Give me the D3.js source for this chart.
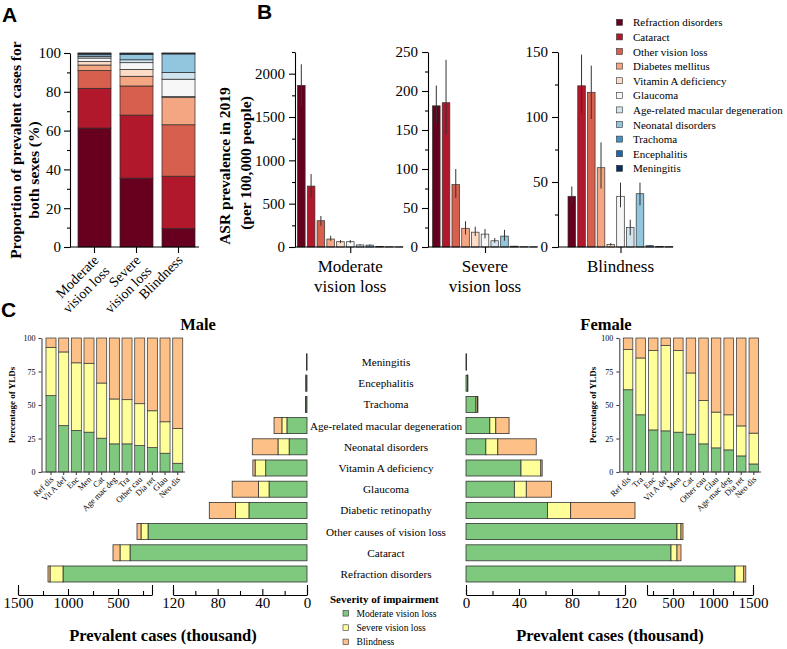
<!DOCTYPE html>
<html><head><meta charset="utf-8">
<script src="https://cdn.jsdelivr.net/npm/d3@7"></script>
<style>
body{margin:0;background:#fff;}
svg{display:block;}
text{font-family:"Liberation Serif","Times New Roman",serif;fill:#000;}
text.plabel{font-family:"Liberation Sans",Arial,sans-serif;font-weight:bold;}
</style></head><body>
<svg id="c" width="787" height="649"></svg>
<script>
// ---------- DATA ----------
const causes = ["Refraction disorders","Cataract","Other vision loss","Diabetes mellitus","Vitamin A deficiency","Glaucoma","Age-related macular degeneration","Neonatal disorders","Trachoma","Encephalitis","Meningitis"];
const causeColors = ["#67001f","#b2182b","#d6604d","#f4a582","#fddbc7","#f7f7f7","#d1e5f0","#92c5de","#4393c3","#2166ac","#053061"];

// Panel A: proportions (%) of prevalent cases
const aCategories = ["Moderate vision loss","Severe vision loss","Blindness"];
const aLabelLines = [["Moderate","vision loss"],["Severe","vision loss"],["Blindness"]];
const propModerate = [61.3,20.5,9.2,2.8,1.8,1.8,0.9,0.8,0.5,0.3,0.1];
const propSevere   = [35.5,32.5,15,5,3.5,3.5,1.5,2.7,0.4,0.2,0.2];
const propBlindness= [9.5,27,26.5,14,0.5,9,3.5,9.5,0.3,0.1,0.1];
const aTicks = [0,20,40,60,80,100];

// Panel B: ASR prevalence (per 100,000)
const asrModerate     = [1865,703,303,92,61,61,24,22,5,2,1];
const asrModerateLow  = [1625,575,245,70,45,45,17,15,3,1,0.5];
const asrModerateHigh = [2108,842,358,130,80,80,32,30,7,3,1.5];
const asrSevere       = [181,185,80,24,19,16.5,8,14,1,0.3,0.2];
const asrSevereLow    = [159,144,63,16,14,11,5.5,8,0.6,0.2,0.1];
const asrSevereHigh   = [207,240,100,33,26,23,11.5,22,1.5,0.4,0.3];
const asrBlindness    = [39,124,119,61,2,39,15,41,1,0.3,0.2];
const asrBlindnessLow = [33,103,98.5,45,1,30.5,9,32,0.5,0.2,0.1];
const asrBlindnessHigh= [46.5,148,139.5,80.5,3,49.5,21,49.5,1.5,0.4,0.3];
const bMax = [2250,250,150];
const bMajor = [[0,500,1000,1500,2000],[0,50,100,150,200,250],[0,50,100,150]];
const bMinor = [[250,750,1250,1750,2250],[25,75,125,175,225],[25,75,125]];

// Panel C: prevalent cases (thousand) by cause and severity
const cCategories = ["Meningitis","Encephalitis","Trachoma","Age-related macular degeneration","Neonatal disorders","Vitamin A deficiency","Glaucoma","Diabetic retinopathy","Other causes of vision loss","Cataract","Refraction disorders"];
const severities = ["Moderate vision loss","Severe vision loss","Blindness"];
const sevColors = ["#7fc97f","#ffff99","#fdc086"];
const maleModerate   = [0.25,0.8,1.0,18,16,37,34,52,200,380,1050];
const maleSevere     = [0.05,0.1,0.1,4.5,10,9.5,9.5,12,70,100,130];
const maleBlindness  = [0.05,0.1,0.1,7,23,2,23.5,23.5,40,70,20];
const femaleModerate = [0.25,1.2,7.5,18,15,41.5,36.5,61.5,550,475,1275];
const femaleSevere   = [0.05,0.1,1,4.5,9,15,9,17.5,50,75,110];
const femaleBlindness= [0.05,0.1,0.5,10,29,1,19,66,25,50,25];
const cSeg1Major = [0,40,80,120], cSeg1Minor = [20,60,100];
const cSeg2Major = [500,1000,1500], cSeg2Minor = [250,750,1250];

// Panel C insets: percentage of YLDs
const maleInsetCats = ["Ref dis","Vit A def","Enc","Men","Cat","Age mac deg","Tra","Other cau","Dia ret","Glau","Neo dis"];
const maleInsetModerate = [57,34.6,31,29.7,25.2,21,21,19.7,18.2,14,6.5];
const maleInsetSevere   = [36,55,50.5,51.4,41.2,33.5,33,31.3,27.5,23.5,26];
const maleInsetBlind    = [7,10.4,18.5,18.9,33.6,45.5,46,49,54.3,62.5,67.5];
const femaleInsetCats = ["Ref dis","Tra","Enc","Vit A def","Men","Cat","Other cau","Glau","Age mac deg","Dia ret","Neo dis"];
const femaleInsetModerate = [61.4,42.7,31.4,30.7,29.7,28.2,21,18,16.5,12,6];
const femaleInsetSevere   = [30,42.4,59.2,63.8,60.9,45.7,32.4,26.7,26.2,22.4,23];
const femaleInsetBlind    = [8.6,14.9,9.4,5.5,9.4,26.1,46.6,55.3,57.3,65.6,71];
const insetTicks = [0,25,50,75,100];

// ---------- DRAW ----------
const svg = d3.select("#c");
const SERIF = '"Liberation Serif","Times New Roman",serif';
const fmt = d3.format("d");
function styleAxis(g, size, color){
  g.attr("font-size", size).attr("font-family", SERIF);
  g.selectAll("path,line").attr("stroke", color || "#000").attr("stroke-width",1.1);
  return g;
}

// Panel letters
svg.append("text").attr("class","plabel").attr("x",2).attr("y",22).attr("font-size",21).text("A");
svg.append("text").attr("class","plabel").attr("x",257).attr("y",19).attr("font-size",21).text("B");
svg.append("text").attr("class","plabel").attr("x",1).attr("y",317).attr("font-size",21).text("C");

// ===== Panel A =====
(function(){
  const g = svg.append("g");
  const y = d3.scaleLinear().domain([0,100]).range([247,53]);
  const x = d3.scaleBand().domain(aCategories).range([73.5,199.5]).paddingInner(0.214).paddingOuter(0.107);
  const props = [propModerate, propSevere, propBlindness];
  aCategories.forEach((cat,i)=>{
    let cum = 0;
    props[i].forEach((v,j)=>{
      g.append("rect").attr("x",x(cat)).attr("width",x.bandwidth())
        .attr("y",y(cum+v)).attr("height",y(cum)-y(cum+v))
        .attr("fill",causeColors[j]).attr("stroke","#2a2a2a").attr("stroke-width",0.7);
      cum += v;
    });
  });
  styleAxis(g.append("g").attr("transform","translate(70,0)")
    .call(d3.axisLeft(y).tickValues(aTicks).tickFormat(fmt).tickSize(6).tickSizeOuter(0).tickPadding(3)), 15);
  styleAxis(g.append("g").attr("transform","translate(70,0)")
    .call(d3.axisLeft(y).tickValues([10,30,50,70,90]).tickSize(3).tickFormat("")), 15)
    .select(".domain").remove();
  const xa = g.append("g").attr("transform","translate(0,247)")
    .call(d3.axisBottom(x).tickSize(6).tickFormat(""));
  styleAxis(xa,12);
  xa.select(".domain").attr("d","M70,0H199");
  aCategories.forEach((cat,i)=>{
    const cx = x(cat)+x.bandwidth()/2;
    const t = g.append("text").attr("text-anchor","end").attr("font-size",14)
      .attr("transform",`translate(${cx+5},${261}) rotate(-45)`);
    aLabelLines[i].forEach((ln,k)=>{
      t.append("tspan").attr("x",0).attr("dy",k===0?0:15.5).text(ln);
    });
  });
  g.append("text").attr("font-weight","bold").attr("font-size",15.5).attr("text-anchor","middle")
    .attr("transform","translate(21,150) rotate(-90)").text("Proportion of prevalent cases for");
  g.append("text").attr("font-weight","bold").attr("font-size",15.5).attr("text-anchor","middle")
    .attr("transform","translate(39,170) rotate(-90)").text("both sexes (%)");
})();

// ===== Panel B =====
(function(){
  const g = svg.append("g");
  const layout = [{ax:295,x0:297.5,x1:403},{ax:428,x0:432.5,x1:537.5},{ax:558,x0:568,x1:673}];
  const vals = [asrModerate, asrSevere, asrBlindness];
  const lows = [asrModerateLow, asrSevereLow, asrBlindnessLow];
  const highs= [asrModerateHigh, asrSevereHigh, asrBlindnessHigh];
  aCategories.forEach((cat,s)=>{
    const L = layout[s];
    const y = d3.scaleLinear().domain([0,bMax[s]]).range([247,52]);
    const x = d3.scaleBand().domain(causes).range([L.x0,L.x1]).paddingInner(0.22).paddingOuter(0);
    causes.forEach((c,j)=>{
      g.append("rect").attr("x",x(c)).attr("width",x.bandwidth())
        .attr("y",y(vals[s][j])).attr("height",y(0)-y(vals[s][j]))
        .attr("fill",causeColors[j]).attr("stroke","#333").attr("stroke-width",0.7);
    });
    causes.forEach((c,j)=>{
      const cx = x(c)+x.bandwidth()/2;
      g.append("line").attr("x1",cx).attr("x2",cx).attr("y1",y(lows[s][j])).attr("y2",y(highs[s][j]))
        .attr("stroke","#333").attr("stroke-width",1);
    });
    styleAxis(g.append("g").attr("transform",`translate(${L.ax},0)`)
      .call(d3.axisLeft(y).tickValues(bMajor[s]).tickFormat(fmt).tickSize(6).tickSizeOuter(0).tickPadding(4)), 15);
    styleAxis(g.append("g").attr("transform",`translate(${L.ax},0)`)
      .call(d3.axisLeft(y).tickValues(bMinor[s]).tickSize(3).tickFormat("")), 15)
      .select(".domain").remove();
    const xs = d3.scalePoint().domain([cat]).range([L.x0,L.x1]).padding(0.5);
    const xa = g.append("g").attr("transform","translate(0,247)")
      .call(d3.axisBottom(xs).tickSize(6).tickFormat(""));
    styleAxis(xa,12);
    xa.select(".domain").attr("d",`M${L.ax},0H${L.x1}`);
    const cx = (L.x0+L.x1)/2;
    aLabelLines[s].forEach((ln,k)=>{
      g.append("text").attr("x",cx).attr("y",272+k*20).attr("text-anchor","middle").attr("font-size",17).text(ln);
    });
  });
  g.append("text").attr("font-weight","bold").attr("font-size",15.5).attr("text-anchor","middle")
    .attr("transform","translate(230,166) rotate(-90)").text("ASR prevalence in 2019");
  g.append("text").attr("font-weight","bold").attr("font-size",15.5).attr("text-anchor","middle")
    .attr("transform","translate(251,163) rotate(-90)").text("(per 100,000 people)");
  // legend
  const lg = g.append("g");
  causes.forEach((c,j)=>{
    const cy = 22.3 + j*14.6;
    lg.append("rect").attr("x",616.5).attr("y",cy-3).attr("width",6).attr("height",6)
      .attr("fill",causeColors[j]).attr("stroke","#333").attr("stroke-width",0.6);
    lg.append("text").attr("x",633).attr("y",cy+4).attr("font-size",11).text(c);
  });
})();

// ===== Panel C =====
(function(){
  const g = svg.append("g");
  const yb = d3.scaleBand().domain(cCategories).range([351.4,584.6]).paddingInner(0.245).paddingOuter(0.1225);
  const xM = d3.scaleLinear().domain([0,120,160,1500]).range([307,173,152,18]);
  const xF = d3.scaleLinear().domain([0,120,175,1500]).range([466,625,647,753]);
  const male = [maleModerate, maleSevere, maleBlindness];
  const female = [femaleModerate, femaleSevere, femaleBlindness];
  cCategories.forEach((c,i)=>{
    let cum = 0;
    severities.forEach((s,k)=>{
      const v = male[k][i];
      if (v>0) g.append("rect").attr("y",yb(c)).attr("height",yb.bandwidth())
        .attr("x",xM(cum+v)).attr("width",xM(cum)-xM(cum+v))
        .attr("fill",sevColors[k]).attr("stroke","#333").attr("stroke-width",0.8);
      cum += v;
    });
    cum = 0;
    severities.forEach((s,k)=>{
      const v = female[k][i];
      if (v>0) g.append("rect").attr("y",yb(c)).attr("height",yb.bandwidth())
        .attr("x",xF(cum)).attr("width",xF(cum+v)-xF(cum))
        .attr("fill",sevColors[k]).attr("stroke","#333").attr("stroke-width",0.8);
      cum += v;
    });
    g.append("text").attr("x",386).attr("y",yb(c)+yb.bandwidth()/2+4).attr("text-anchor","middle")
      .attr("font-size",11.2).text(c);
  });
  // broken axes
  function seg(scale, d0, d1, major, minor){
    const sc = d3.scaleLinear().domain([d0,d1]).range([scale(d0),scale(d1)]);
    const a1 = g.append("g").attr("transform","translate(0,595)")
      .call(d3.axisBottom(sc).tickValues(major).tickFormat(fmt).tickSizeInner(-6).tickSizeOuter(0).tickPadding(2.5));
    styleAxis(a1,15);
    const a2 = g.append("g").attr("transform","translate(0,595)")
      .call(d3.axisBottom(sc).tickValues(minor).tickSizeInner(-4).tickSizeOuter(0).tickFormat(""));
    styleAxis(a2,15); a2.select(".domain").remove();
    const a3 = g.append("g").attr("transform","translate(0,595)")
      .call(d3.axisBottom(sc).tickValues([d0,d1]).tickSizeInner(-10).tickSizeOuter(0).tickFormat(""));
    styleAxis(a3,15); a3.select(".domain").remove();
  }
  seg(xM,0,120,cSeg1Major,cSeg1Minor);
  seg(xM,160,1500,cSeg2Major,cSeg2Minor);
  seg(xF,0,120,cSeg1Major,cSeg1Minor);
  seg(xF,175,1500,cSeg2Major,cSeg2Minor);
  g.append("text").attr("x",163).attr("y",641).attr("text-anchor","middle").attr("font-weight","bold").attr("font-size",16.5).text("Prevalent cases (thousand)");
  g.append("text").attr("x",610).attr("y",641).attr("text-anchor","middle").attr("font-weight","bold").attr("font-size",16.5).text("Prevalent cases (thousand)");
  g.append("text").attr("x",198).attr("y",330).attr("text-anchor","middle").attr("font-weight","bold").attr("font-size",16.5).text("Male");
  g.append("text").attr("x",606).attr("y",330).attr("text-anchor","middle").attr("font-weight","bold").attr("font-size",16.5).text("Female");
  // severity legend
  g.append("text").attr("x",330).attr("y",603).attr("font-weight","bold").attr("font-size",11).text("Severity of impairment");
  severities.forEach((s,k)=>{
    const cy = 613.3 + k*14.3;
    g.append("rect").attr("x",343).attr("y",cy-2.8).attr("width",5.6).attr("height",5.6)
      .attr("fill",sevColors[k]).attr("stroke","#333").attr("stroke-width",0.6);
    g.append("text").attr("x",356.5).attr("y",cy+3.4).attr("font-size",9.6).text(s);
  });

  // insets
  function inset(cats, mod, sev, bl, axX, r0, step, pi, po, ylabX){
    const gi = g.append("g");
    const y = d3.scaleLinear().domain([0,100]).range([472,338]);
    const x = d3.scaleBand().domain(cats).range([r0, r0+step*11]).paddingInner(pi).paddingOuter(po);
    const arrs = [mod, sev, bl];
    cats.forEach((c,i)=>{
      let cum = 0;
      arrs.forEach((arr,k)=>{
        const v = arr[i];
        gi.append("rect").attr("x",x(c)).attr("width",x.bandwidth())
          .attr("y",y(cum+v)).attr("height",y(cum)-y(cum+v))
          .attr("fill",sevColors[k]).attr("stroke","#444").attr("stroke-width",0.8);
        cum += v;
      });
    });
    styleAxis(gi.append("g").attr("transform",`translate(${axX},0)`)
      .call(d3.axisLeft(y).tickValues(insetTicks).tickFormat(fmt).tickSize(3).tickSizeOuter(0).tickPadding(3)), 8, "#444");
    const xa = gi.append("g").attr("transform","translate(0,472)")
      .call(d3.axisBottom(x).tickSize(3).tickFormat(""));
    styleAxis(xa, 8, "#444");
    xa.select(".domain").attr("d",`M${axX},0H${r0+step*11+1}`);
    cats.forEach(c=>{
      const cx = x(c)+x.bandwidth()/2;
      gi.append("text").attr("text-anchor","end").attr("font-size",8.5)
        .attr("transform",`translate(${cx+3},${480}) rotate(-45)`).text(c);
    });
    gi.append("text").attr("font-weight","bold").attr("font-size",9).attr("text-anchor","middle")
      .attr("transform",`translate(${ylabX},405) rotate(-90)`).text("Percentage of YLDs");
  }
  inset(maleInsetCats, maleInsetModerate, maleInsetSevere, maleInsetBlind, 41.5, 44.67, 12.67, 0.21, 0.105, 15);
  inset(femaleInsetCats, femaleInsetModerate, femaleInsetSevere, femaleInsetBlind, 619.3, 621.8, 12.57, 0.245, 0.12, 596);
})();
</script>
</body></html>
